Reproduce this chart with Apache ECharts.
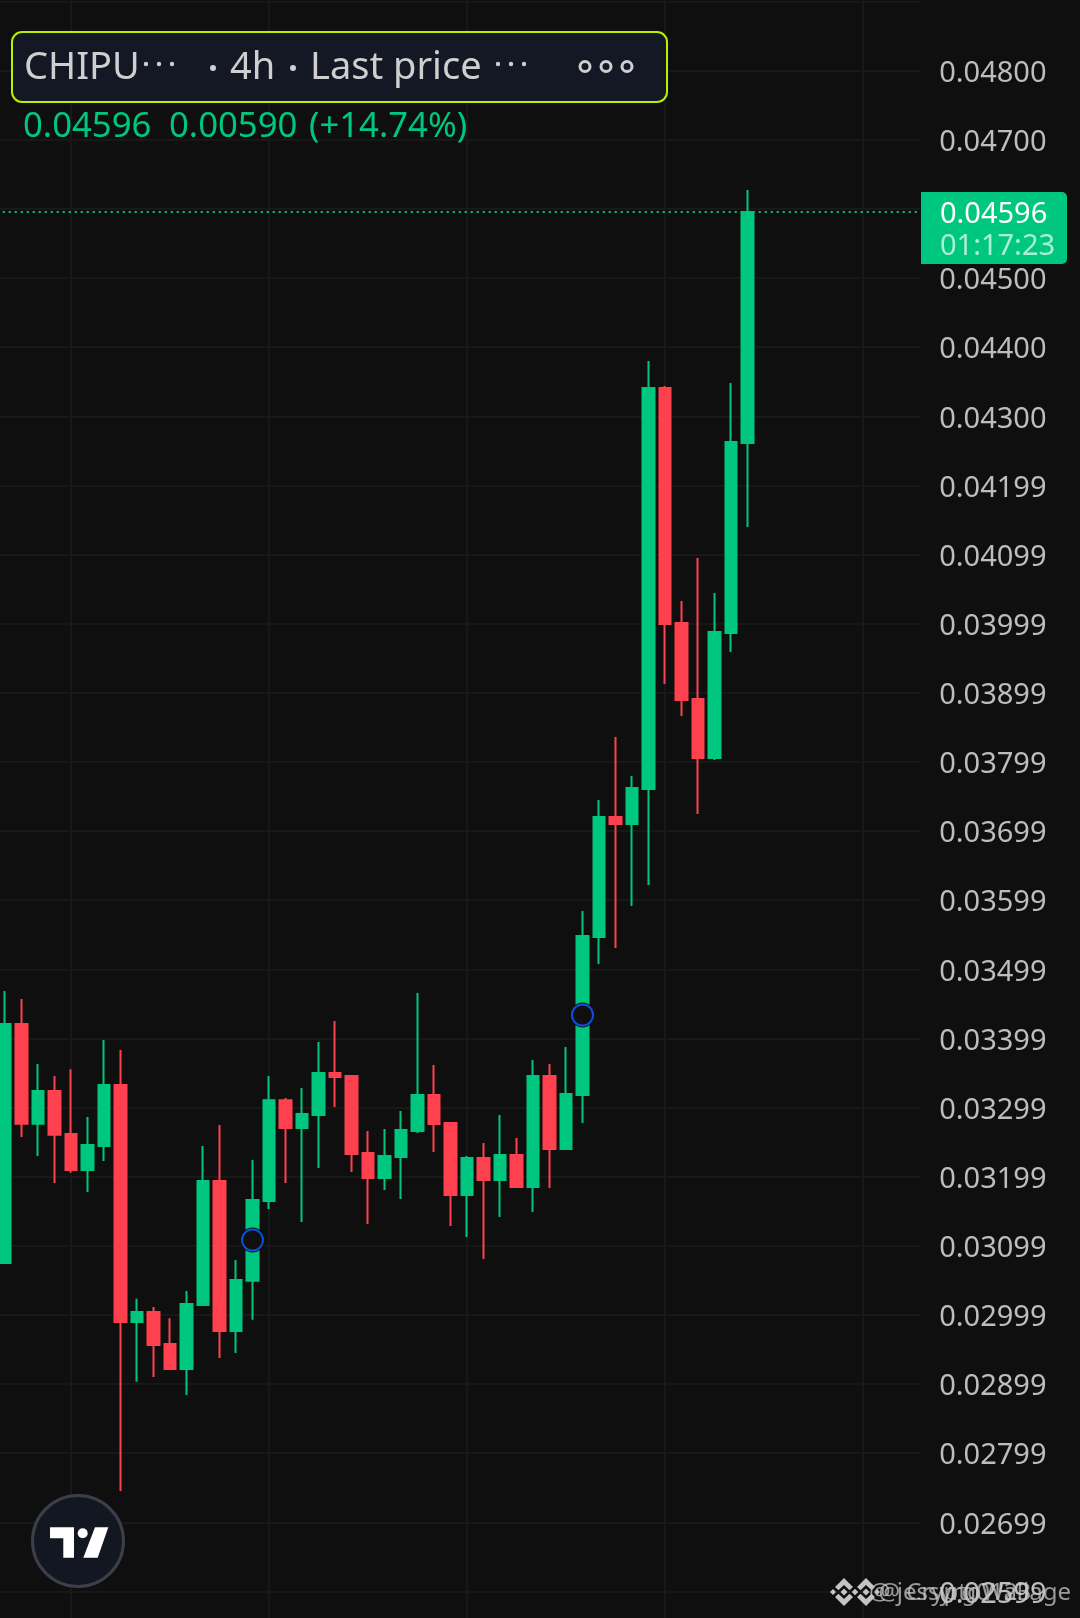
<!DOCTYPE html>
<html>
<head>
<meta charset="utf-8">
<style>html,body{margin:0;padding:0;background:#0f0f0f;overflow:hidden}#w{position:relative;width:1080px;height:1618px;overflow:hidden}#c{position:absolute;left:-4px;top:-68px;width:1084px;height:1729px}</style>
<script src="https://cdn.jsdelivr.net/npm/echarts@6/dist/echarts.min.js"></script>
</head>
<body>
<div id="w"><div id="c"></div></div>
<script>
const opens  = [.030752,.034209,.032764,.033241,.032619,.032095,.032444,.033326,.029899,.030044,.029580,.029217,.030144,.031936,.029769,.030493,.031648,.033107,.032704,.032892,.033500,.033457,.032343,.031981,.032285,.032661,.033182,.032777,.031735,.032270,.031952,.032314,.031851,.033457,.032401,.033182,.035467,.037203,.037102,.037608,.043409,.040009,.038910,.038057,.039865,.042613];
const closes = [.034209,.032764,.033241,.032605,.032095,.032460,.033326,.029899,.030044,.029565,.029217,.030158,.031936,.029769,.030507,.031663,.033107,.032704,.032907,.033500,.033442,.032328,.031981,.032299,.032675,.033182,.032762,.031735,.032270,.031952,.032314,.031851,.033457,.032401,.033196,.035482,.037203,.037102,.037623,.043409,.039995,.038896,.038057,.039879,.042628,.045955];
const lows   = [.030736,.032574,.032301,.031907,.032056,.031777,.032226,.027453,.029033,.029102,.029217,.028843,.030144,.029376,.029451,.029930,.031533,.031907,.031345,.032126,.033008,.032068,.031316,.031808,.031677,.032632,.032357,.031287,.031128,.030809,.031417,.031836,.031489,.031836,.032401,.032777,.035077,.035308,.035916,.036219,.039127,.038664,.037247,.038028,.039590,.041398];
const highs  = [.034686,.034572,.033630,.033457,.033555,.032863,.033979,.033834,.030234,.030114,.029954,.030348,.032444,.032749,.030796,.032240,.033457,.033137,.033283,.033948,.034252,.033457,.032661,.032690,.032950,.034657,.033616,.032791,.032299,.032487,.032892,.032560,.033688,.033630,.033876,.035843,.037449,.038360,.037796,.043799,.043438,.040328,.040950,.040443,.043481,.046273];
const markerPoints = [[15,.031084],[35,.034339]];
const lastPrice = .045955;
const tickLabels = ['','0.02599','0.02699','0.02799','0.02899','0.02999','0.03099','0.03199','0.03299','0.03399','0.03499','0.03599','0.03699','0.03799','0.03899','0.03999','0.04099','0.04199','0.04300','0.04400','0.04500','','0.04700','0.04800','',''];
const futureBars = 10;

const UP='#00C77F', DOWN='#FF404E', BG='#0F0F0F', GRID='#181818', FONT='"Noto Sans"';
const categories = opens.map((_,i)=>'b'+i);
for(let i=0;i<futureBars;i++) categories.push('f'+i);
const candles = opens.map((o,i)=>[o,closes[i],lows[i],highs[i]]);

function txt(x,y,text,size,fill,align){
  return {type:'text',z:50,style:{x,y,text,fill,font:size+'px '+FONT,align:align||'left',verticalAlign:'middle'}};
}
function dot(x,y,r,fill){return {type:'circle',z:50,shape:{cx:x,cy:y,r},style:{fill}};}
function ring(x,y,r){return {type:'circle',z:50,shape:{cx:x,cy:y,r},style:{fill:'none',stroke:'#CFCFCF',lineWidth:3}};}
function binance(cx,cy){
  const c='#C4C4C4';
  const poly=(pts)=>({type:'polygon',z:51,shape:{points:pts.map(p=>[cx+p[0],cy+p[1]])},style:{fill:c}});
  return [
    poly([[0,-3.5],[3.5,0],[0,3.5],[-3.5,0]]),
    poly([[-11,-3],[-8,0],[-11,3],[-14,0]]),
    poly([[11,-3],[14,0],[11,3],[8,0]]),
    poly([[0,-14],[9,-5],[5.5,-1.8],[0,-7],[-5.5,-1.8],[-9,-5]]),
    poly([[0,14],[9,5],[5.5,1.8],[0,7],[-5.5,1.8],[-9,5]])
  ];
}

const overlay = [
  {type:'rect',z:40,shape:{x:12,y:32,width:655,height:70,r:10},style:{fill:'#141824',stroke:'#B8F000',lineWidth:2}},
  txt(24,68,'CHIPU',38,'#CFCFCF'),
  dot(146,64,2.2,'#CFCFCF'),dot(159,64,2.2,'#CFCFCF'),dot(172,64,2.2,'#CFCFCF'),
  dot(213,68,3,'#CFCFCF'),
  txt(230,68,'4h',38,'#CFCFCF'),
  dot(293,68,3,'#CFCFCF'),
  txt(310,68,'Last price',38,'#CFCFCF'),
  dot(498,64,2.2,'#CFCFCF'),dot(511,64,2.2,'#CFCFCF'),dot(524,64,2.2,'#CFCFCF'),
  ring(585,66.5,5),ring(606,66.5,5),ring(627,66.5,5),
  txt(23,127,'0.04596',34.7,UP),
  txt(169,127,'0.00590',34.7,UP),
  txt(309,127,'(+14.74%)',34.7,UP),
  {type:'rect',z:40,shape:{x:921,y:192,width:146,height:72,r:[0,5,5,0]},style:{fill:UP}},
  txt(940,215,'0.04596',29,'#FFFFFF'),
  txt(940,247,'01:17:23',29,'#A9F0D4'),
  {type:'circle',z:40,shape:{cx:78,cy:1541,r:45.5},style:{fill:'#131722',stroke:'#3C3F48',lineWidth:3}},
  {type:'polygon',z:41,shape:{points:[[50,1527.3],[74,1527.3],[74,1557.7],[63.3,1557.7],[63.3,1538.3],[50,1538.3]]},style:{fill:'#FFFFFF'}},
  {type:'circle',z:41,shape:{cx:82.7,cy:1533.3,r:5},style:{fill:'#FFFFFF'}},
  {type:'polygon',z:41,shape:{points:[[95,1527.3],[108.3,1527.3],[97.7,1557.7],[83.3,1557.7]]},style:{fill:'#FFFFFF'}},
  ...binance(844,1592),...binance(866,1592),
  txt(869,1593,'@ jessyrg0123',24,'rgba(200,200,200,0.75)'),
  txt(1071,1593,'@ CryptoWallage',24,'rgba(200,200,200,0.75)','right')
];

const chart = echarts.init(document.getElementById('c'),null,{renderer:'canvas',width:1084,height:1729});
chart.setOption({
  animation:false,
  backgroundColor:BG,
  grid:{left:0.75,right:159.25,top:0.35,bottom:0.4,containLabel:false},
  xAxis:[{
    type:'category',data:categories,boundaryGap:true,
    axisLine:{show:false},axisTick:{show:false},axisLabel:{show:false},
    splitLine:{show:true,alignWithLabel:true,interval:(i)=>i%12===4,lineStyle:{color:GRID,width:2}}
  },{
    type:'value',min:0,max:1,show:false,splitLine:{show:false}
  }],
  yAxis:{
    type:'value',position:'right',min:0.025,max:0.05,interval:0.001,
    axisLine:{show:false},axisTick:{show:false},
    axisLabel:{margin:18.5,verticalAlign:'top',lineHeight:6,color:'#BDBDBD',fontFamily:FONT,fontSize:29,
      formatter:(v)=>tickLabels[Math.round((v-0.025)*1000)]||''},
    splitLine:{show:true,lineStyle:{color:GRID,width:2}}
  },
  series:[
    {type:'line',xAxisIndex:1,data:[[0,lastPrice],[1,lastPrice]],symbol:'none',z:2,silent:true,
     lineStyle:{color:UP,type:[2,4],width:2}},
    {type:'candlestick',data:candles,barWidth:12,z:3,
     itemStyle:{color:UP,color0:DOWN,borderColor:UP,borderColor0:DOWN,borderWidth:2}},
    {type:'scatter',data:markerPoints,symbol:'circle',symbolSize:25,z:4,itemStyle:{color:BG,opacity:1},silent:true},
    {type:'scatter',data:markerPoints,symbol:'circle',symbolSize:21,z:5,itemStyle:{color:'transparent',borderColor:'#0B50D8',borderWidth:2,opacity:1},silent:true}
  ],
  graphic:[{type:'group',x:4,y:68,children:overlay}]
});
</script>
</body>
</html>
